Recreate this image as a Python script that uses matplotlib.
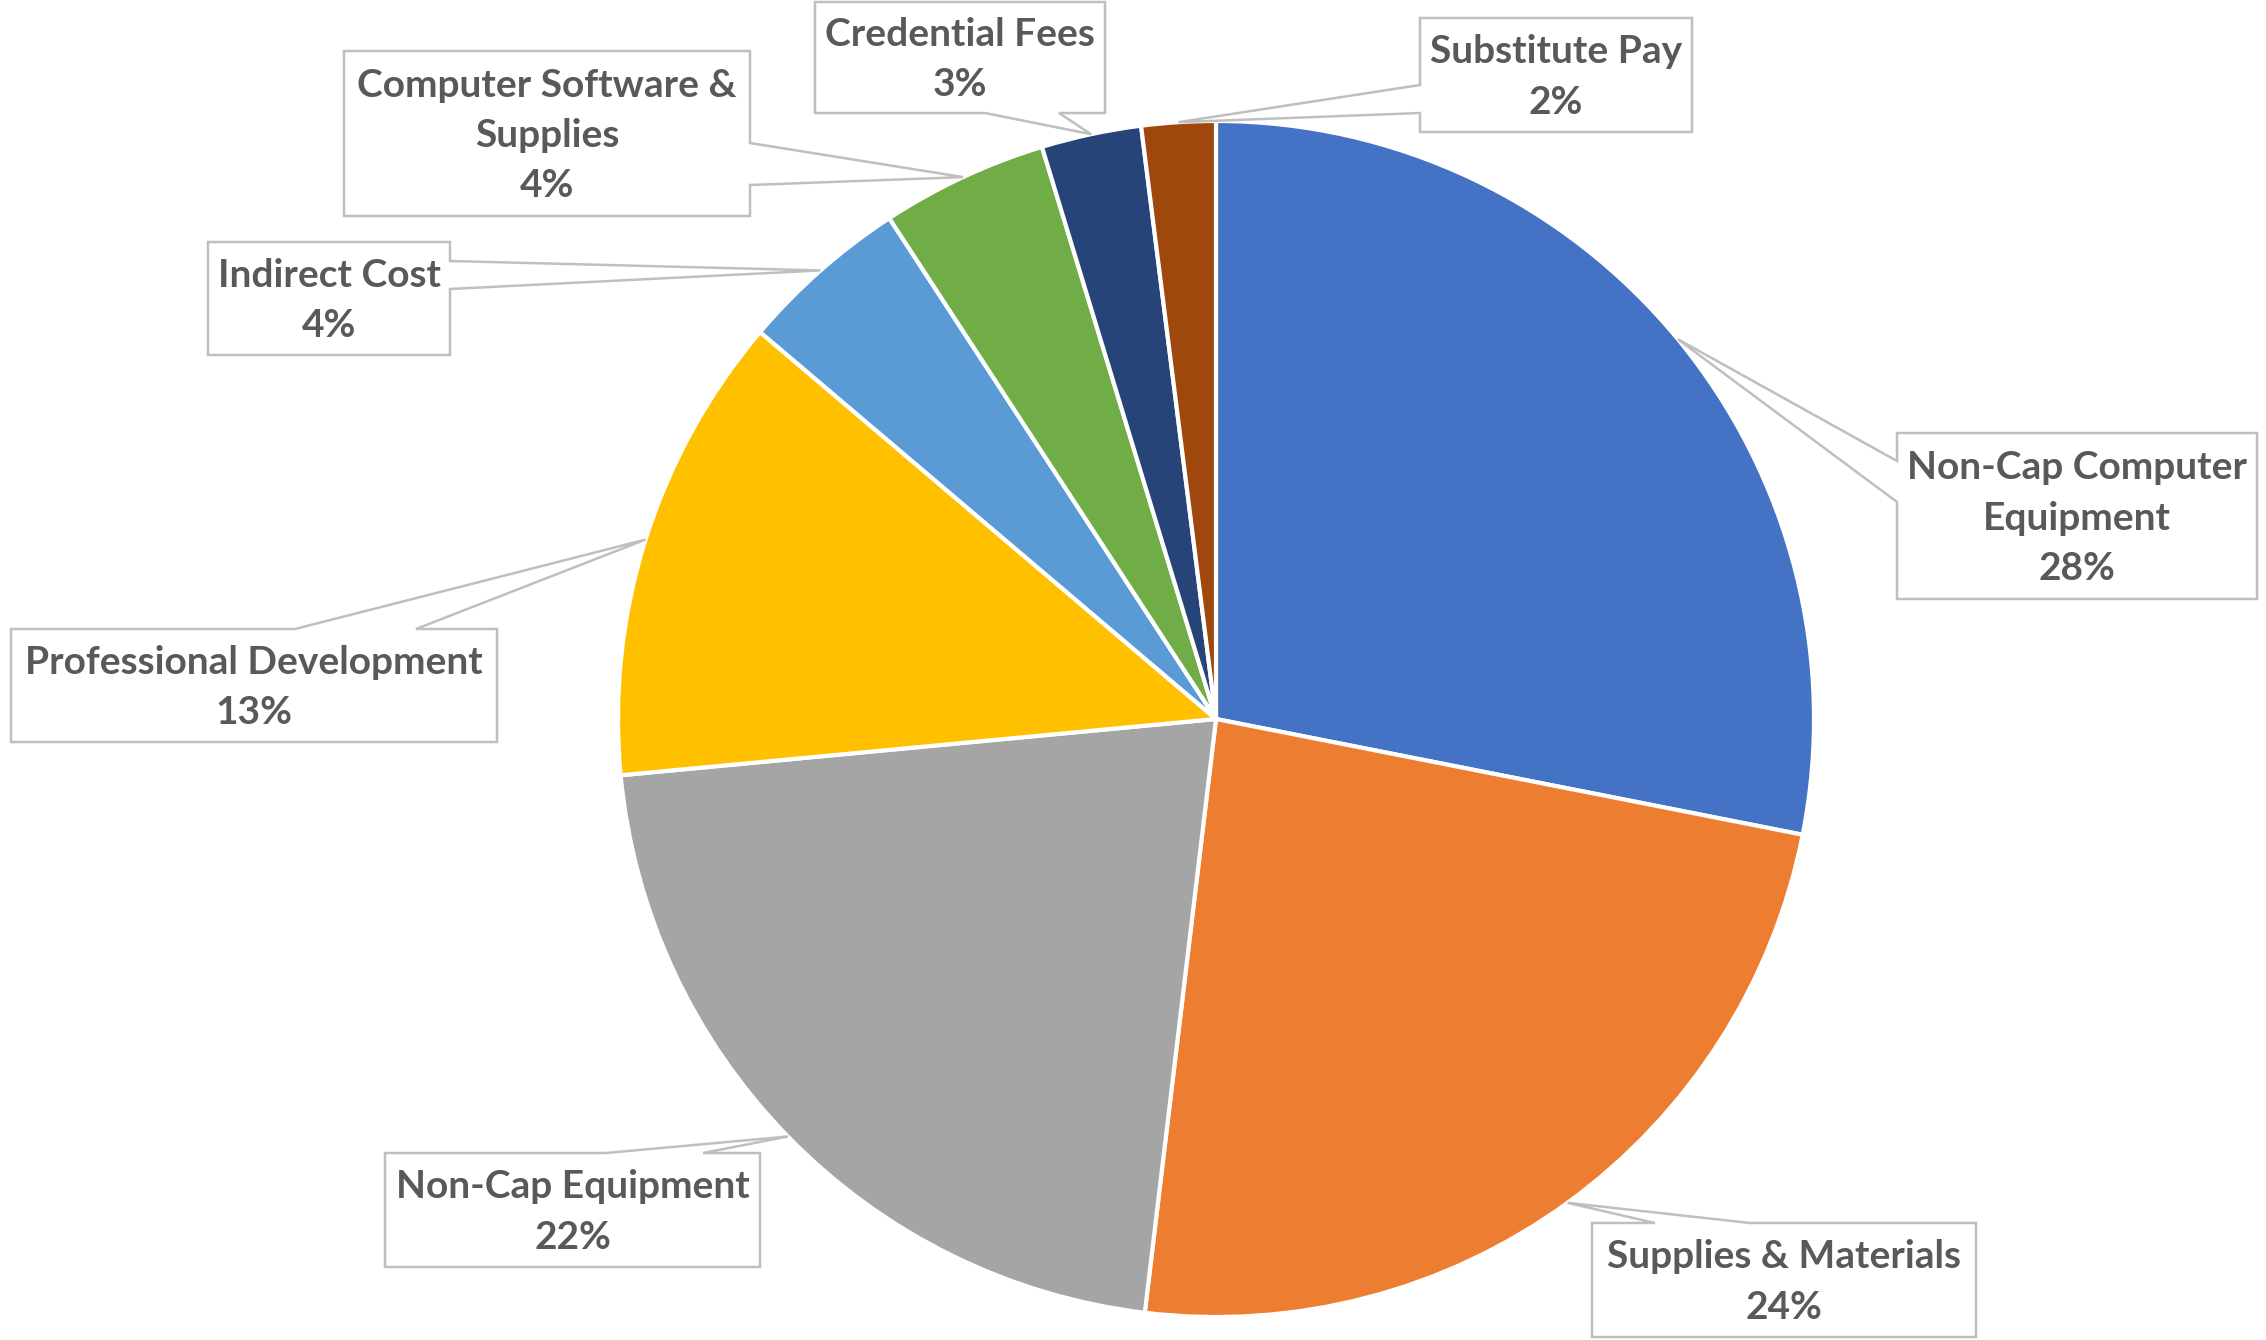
import matplotlib.pyplot as plt
import numpy as np

# slice data (clockwise from 12 o'clock)
categories = ['Non-Cap Computer\nEquipment', 'Supplies & Materials', 'Non-Cap Equipment',
              'Professional Development', 'Indirect Cost', 'Computer Software &\nSupplies',
              'Credential Fees', 'Substitute Pay']
values = [28.1, 23.8, 21.6, 12.7, 4.6, 4.5, 2.7, 2.0]
pct_labels = ['28%', '24%', '22%', '13%', '4%', '4%', '3%', '2%']
colors = ['#4472C4', '#ED7D31', '#A5A5A5', '#FFC000', '#5B9BD5', '#70AD47', '#264478', '#9E480E']

# callout layout (pixel space, y down): box, side of pointer, two attach coords on that side
boxes = [(1897, 433, 2257, 599), (1592, 1223, 1976, 1337), (385, 1153, 760, 1267),
         (11, 629, 497, 742), (208, 242, 450, 355), (344, 51, 750, 216),
         (815, 2, 1105, 113), (1420, 18, 1692, 132)]
sides = ['left', 'top', 'top', 'top', 'right', 'right', 'bottom', 'left']
attach = [(461, 502), (1655, 1750), (606, 703), (295, 416), (261, 289), (143, 185),
          (985, 1059), (85, 113)]

W, H = 2266, 1340
cx, cy, R = 1216, 719, 598

fig = plt.figure(figsize=(W / 100, H / 100), dpi=100)
ax = fig.add_axes([0, 0, 1, 1])

# y axis is flipped below, so start at -90 and go counterclockwise in data = clockwise on screen
wedges, _ = ax.pie(values, colors=colors, startangle=-90, counterclock=True,
                   center=(cx, cy), radius=R,
                   wedgeprops=dict(edgecolor='white', linewidth=3))

ax.set_xlim(0, W)
ax.set_ylim(H, 0)
ax.set_aspect('equal')
ax.axis('off')


def callout(box, side, att, tip):
    x0, y0, x1, y1 = box
    a, b = att
    if side == 'top':
        pts = [(x0, y0), (a, y0), tip, (b, y0), (x1, y0), (x1, y1), (x0, y1)]
    elif side == 'bottom':
        pts = [(x0, y0), (x1, y0), (x1, y1), (b, y1), tip, (a, y1), (x0, y1)]
    elif side == 'left':
        pts = [(x0, y0), (x1, y0), (x1, y1), (x0, y1), (x0, b), tip, (x0, a)]
    else:
        pts = [(x0, y0), (x1, y0), (x1, a), tip, (x1, b), (x1, y1), (x0, y1)]
    poly = plt.Polygon(pts, closed=True, facecolor='white', edgecolor='#BFBFBF',
                       linewidth=1.8, zorder=3)
    ax.add_patch(poly)


for i, w in enumerate(wedges):
    mid = np.deg2rad((w.theta1 + w.theta2) / 2)
    tip = (cx + R * np.cos(mid), cy + R * np.sin(mid))
    callout(boxes[i], sides[i], attach[i], tip)
    x0, y0, x1, y1 = boxes[i]
    ax.text((x0 + x1) / 2, (y0 + y1) / 2 + 2, categories[i] + '\n' + pct_labels[i],
            ha='center', va='center', fontsize=28, fontweight='bold', family='Lato',
            color='#595959', linespacing=1.52, zorder=4)

fig.savefig('out.png', dpi=100, facecolor='white')
